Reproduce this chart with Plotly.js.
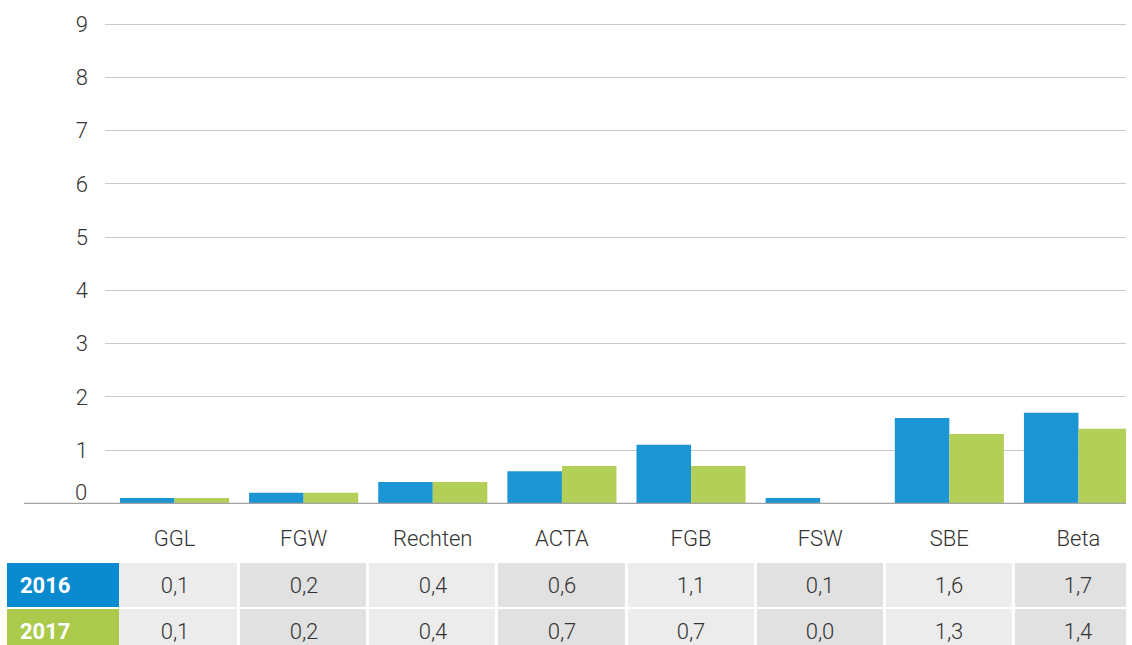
<!DOCTYPE html>
<html>
<head>
<meta charset="utf-8">
<script src="https://cdn.plot.ly/plotly-3.0.1.min.js"></script>
<style>html,body{margin:0;padding:0;background:#fff;}#chart{width:1132px;height:645px;}</style>
</head>
<body>
<div id="chart"></div>
<script>
var categories = ['GGL','FGW','Rechten','ACTA','FGB','FSW','SBE','Beta'];
var years = ['2016','2017'];
var values2016 = [0.1,0.2,0.4,0.6,1.1,0.1,1.6,1.7];
var values2017 = [0.1,0.2,0.4,0.7,0.7,0.0,1.3,1.4];
var yTicks = [0,1,2,3,4,5,6,7,8,9];

var barColors = ['#1b95d3','#b3cf58'];
var headColors = ['#0a8bd0','#abca4c'];
var series = [values2016, values2017];
var fontFam = 'Roboto, "Open Sans", sans-serif';
var textCol = '#333333';

function fmt(v){ return v.toFixed(1).replace('.', ','); }

var traces = series.map(function(vals, k){
  return {type:'bar', x:categories, y:vals, name:years[k], marker:{color:barColors[k]},
    hoverinfo:'skip', xaxis:'x', yaxis:'y'};
});

// table cells as heatmap on the shared category axis
var shade = years.map(function(){ return categories.map(function(c,i){ return i%2; }); });
var cellText = series.map(function(vals){ return vals.map(fmt); });
traces.push({
  type:'heatmap', x:categories, y:years, z:shade, text:cellText,
  texttemplate:'%{text}', textfont:{family:fontFam, size:22, color:textCol, weight:300},
  colorscale:[[0,'#ececec'],[1,'#e1e1e1']], zmin:0, zmax:1, showscale:false,
  xgap:3, ygap:2, hoverinfo:'skip', xaxis:'x', yaxis:'y2'
});

var W = 1132, H = 645, L = 105, R = 6, T = 23;
var plotW = W - L - R, plotH = H - T;
var baseY = 503.3, tableTop = 562;
var yDomBottom = (H - baseY) / plotH;
var y2DomTop = (H - tableTop) / plotH;
var rowPx = 46;
var y2Span = (H - tableTop) / rowPx;

function px2paperX(p){ return (p - L) / plotW; }

var shapes = [{
  type:'line', xref:'paper', yref:'y domain', x0:px2paperX(24), x1:1, y0:0, y1:0,
  line:{color:'#a3a3a3', width:1.3}, layer:'above'
}];
var annotations = [{
  xref:'paper', yref:'y', x:0, y:yTicks[0], text:String(yTicks[0]), showarrow:false,
  xanchor:'right', yanchor:'middle', xshift:-16, yshift:11,
  font:{family:fontFam, size:22, color:textCol, weight:300}
}];
var gapU = 1 / rowPx;
years.forEach(function(yr, i){
  shapes.push({type:'rect', xref:'paper', yref:'y2', x0:px2paperX(7), x1:px2paperX(119),
    y0:i-0.5+gapU, y1:i+0.5-gapU, fillcolor:headColors[i], line:{width:0}, layer:'above'});
  annotations.push({xref:'paper', yref:'y2', x:px2paperX(18), y:i, text:'<b>'+yr+'</b>',
    showarrow:false, xanchor:'left', yanchor:'middle',
    font:{family:fontFam, size:22, color:'#ffffff'}});
});

var layout = {
  width:W, height:H, margin:{l:L, r:R, t:T, b:0, pad:0},
  paper_bgcolor:'#ffffff', plot_bgcolor:'rgba(0,0,0,0)',
  showlegend:false, barmode:'group', bargap:0.155, bargroupgap:0,
  font:{family:fontFam, color:textCol},
  xaxis:{type:'category', range:[(L-174.5)/129.14, (W-R-174.5)/129.14], showgrid:false, zeroline:false,
    showline:false, ticks:'', tickfont:{family:fontFam, size:22, color:textCol, weight:300},
    ticklabelstandoff:20, anchor:'y', fixedrange:true},
  yaxis:{domain:[yDomBottom,1], range:[0,9.02], tickvals:yTicks.slice(1), showgrid:true, gridcolor:'#c9c9c9', gridwidth:1,
    zeroline:false, showline:false, ticks:'', ticklabelstandoff:16,
    tickfont:{family:fontFam, size:22, color:textCol, weight:300}, fixedrange:true},
  yaxis2:{domain:[0,y2DomTop], type:'category', range:[y2Span-0.5, -0.5], showgrid:false, zeroline:false,
    showticklabels:false, ticks:'', showline:false, fixedrange:true},
  shapes:shapes, annotations:annotations
};

Plotly.newPlot('chart', traces, layout, {displayModeBar:false, staticPlot:true});
</script>
</body>
</html>
